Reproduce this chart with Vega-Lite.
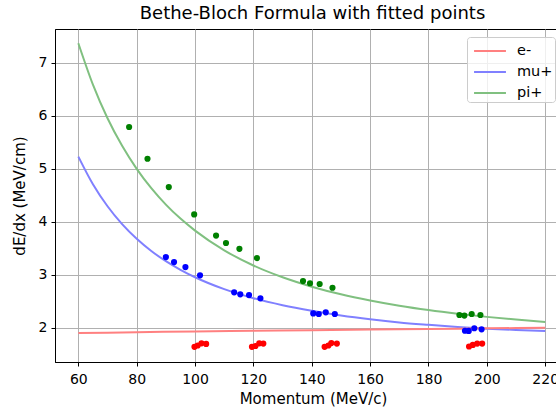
{
  "$schema": "https://vega.github.io/schema/vega-lite/v6.json",
  "width": 501,
  "height": 333,
  "autosize": {"type": "none"},
  "padding": {"left": 55, "top": 29, "right": 0, "bottom": 47},
  "background": "white",
  "title": {"text": "Bethe-Bloch Formula with fitted points", "font": "DejaVu Sans", "fontSize": 18, "fontWeight": "normal", "color": "black", "anchor": "middle", "dx": 7, "offset": 6},
  "config": {
    "font": "DejaVu Sans",
    "view": {"stroke": "black", "strokeWidth": 1},
    "axis": {"labelFont": "DejaVu Sans", "labelFontSize": 14, "labelColor": "black", "titleFont": "DejaVu Sans", "titleFontSize": 15, "titleFontWeight": "normal", "titleColor": "black", "domainColor": "black", "tickColor": "black", "tickSize": 4, "labelPadding": 4, "gridColor": "#b0b0b0", "gridWidth": 1, "gridOpacity": 1}
  },
  "datasets": {
    "curves": [
      {"p": 60, "v": 7.371, "series": "pi+"}, {"p": 65, "v": 6.589, "series": "pi+"}, {"p": 70, "v": 5.955, "series": "pi+"}, {"p": 75, "v": 5.434, "series": "pi+"}, {"p": 80, "v": 5.0, "series": "pi+"}, {"p": 85, "v": 4.635, "series": "pi+"}, {"p": 90, "v": 4.325, "series": "pi+"}, {"p": 95, "v": 4.06, "series": "pi+"}, {"p": 100, "v": 3.833, "series": "pi+"}, {"p": 110, "v": 3.461, "series": "pi+"}, {"p": 120, "v": 3.175, "series": "pi+"}, {"p": 130, "v": 2.952, "series": "pi+"}, {"p": 140, "v": 2.775, "series": "pi+"}, {"p": 150, "v": 2.631, "series": "pi+"}, {"p": 160, "v": 2.514, "series": "pi+"}, {"p": 170, "v": 2.415, "series": "pi+"}, {"p": 180, "v": 2.333, "series": "pi+"}, {"p": 190, "v": 2.264, "series": "pi+"}, {"p": 200, "v": 2.205, "series": "pi+"}, {"p": 210, "v": 2.155, "series": "pi+"}, {"p": 220, "v": 2.11, "series": "pi+"},
      {"p": 60, "v": 5.231, "series": "mu+"}, {"p": 65, "v": 4.709, "series": "mu+"}, {"p": 70, "v": 4.293, "series": "mu+"}, {"p": 75, "v": 3.956, "series": "mu+"}, {"p": 80, "v": 3.679, "series": "mu+"}, {"p": 85, "v": 3.449, "series": "mu+"}, {"p": 90, "v": 3.256, "series": "mu+"}, {"p": 95, "v": 3.093, "series": "mu+"}, {"p": 100, "v": 2.953, "series": "mu+"}, {"p": 110, "v": 2.728, "series": "mu+"}, {"p": 120, "v": 2.558, "series": "mu+"}, {"p": 130, "v": 2.425, "series": "mu+"}, {"p": 140, "v": 2.32, "series": "mu+"}, {"p": 150, "v": 2.232, "series": "mu+"}, {"p": 160, "v": 2.16, "series": "mu+"}, {"p": 170, "v": 2.1, "series": "mu+"}, {"p": 180, "v": 2.055, "series": "mu+"}, {"p": 190, "v": 2.015, "series": "mu+"}, {"p": 200, "v": 1.982, "series": "mu+"}, {"p": 210, "v": 1.958, "series": "mu+"}, {"p": 220, "v": 1.94, "series": "mu+"},
      {"p": 60, "v": 1.9, "series": "e-"}, {"p": 80, "v": 1.915, "series": "e-"}, {"p": 100, "v": 1.93, "series": "e-"}, {"p": 120, "v": 1.943, "series": "e-"}, {"p": 140, "v": 1.954, "series": "e-"}, {"p": 160, "v": 1.965, "series": "e-"}, {"p": 180, "v": 1.976, "series": "e-"}, {"p": 200, "v": 1.988, "series": "e-"}, {"p": 220, "v": 2.0, "series": "e-"}
    ],
    "pts": [
      {"p": 77.4, "v": 5.79, "series": "pi+"}, {"p": 83.7, "v": 5.19, "series": "pi+"}, {"p": 91.0, "v": 4.655, "series": "pi+"}, {"p": 99.7, "v": 4.14, "series": "pi+"}, {"p": 107.2, "v": 3.74, "series": "pi+"}, {"p": 110.6, "v": 3.6, "series": "pi+"}, {"p": 115.2, "v": 3.49, "series": "pi+"}, {"p": 121.2, "v": 3.315, "series": "pi+"}, {"p": 137.0, "v": 2.88, "series": "pi+"}, {"p": 139.4, "v": 2.84, "series": "pi+"}, {"p": 142.7, "v": 2.825, "series": "pi+"}, {"p": 147.1, "v": 2.755, "series": "pi+"}, {"p": 190.6, "v": 2.24, "series": "pi+"}, {"p": 192.3, "v": 2.23, "series": "pi+"}, {"p": 194.8, "v": 2.26, "series": "pi+"}, {"p": 197.8, "v": 2.24, "series": "pi+"},
      {"p": 90.0, "v": 3.334, "series": "mu+"}, {"p": 92.8, "v": 3.24, "series": "mu+"}, {"p": 96.7, "v": 3.145, "series": "mu+"}, {"p": 101.7, "v": 2.99, "series": "mu+"}, {"p": 113.4, "v": 2.668, "series": "mu+"}, {"p": 115.5, "v": 2.63, "series": "mu+"}, {"p": 118.5, "v": 2.617, "series": "mu+"}, {"p": 122.4, "v": 2.555, "series": "mu+"}, {"p": 140.5, "v": 2.27, "series": "mu+"}, {"p": 142.4, "v": 2.26, "series": "mu+"}, {"p": 144.8, "v": 2.29, "series": "mu+"}, {"p": 147.9, "v": 2.26, "series": "mu+"}, {"p": 192.5, "v": 1.943, "series": "mu+"}, {"p": 193.8, "v": 1.94, "series": "mu+"}, {"p": 195.7, "v": 1.99, "series": "mu+"}, {"p": 198.2, "v": 1.97, "series": "mu+"},
      {"p": 99.8, "v": 1.64, "series": "e-"}, {"p": 100.9, "v": 1.665, "series": "e-"}, {"p": 102.2, "v": 1.705, "series": "e-"}, {"p": 103.8, "v": 1.695, "series": "e-"}, {"p": 119.5, "v": 1.64, "series": "e-"}, {"p": 120.7, "v": 1.655, "series": "e-"}, {"p": 122.0, "v": 1.705, "series": "e-"}, {"p": 123.4, "v": 1.7, "series": "e-"}, {"p": 144.4, "v": 1.64, "series": "e-"}, {"p": 145.7, "v": 1.665, "series": "e-"}, {"p": 146.7, "v": 1.71, "series": "e-"}, {"p": 148.6, "v": 1.7, "series": "e-"}, {"p": 193.9, "v": 1.645, "series": "e-"}, {"p": 195.2, "v": 1.675, "series": "e-"}, {"p": 196.7, "v": 1.7, "series": "e-"}, {"p": 198.4, "v": 1.7, "series": "e-"}
    ]
  },
  "layer": [
    {
      "data": {"name": "curves"},
      "mark": {"type": "line", "strokeWidth": 2, "interpolate": "monotone", "clip": true},
      "encoding": {
        "x": {"field": "p", "type": "quantitative", "scale": {"domain": [52, 223.7], "nice": false, "zero": false}, "axis": {"values": [60, 80, 100, 120, 140, 160, 180, 200, 220], "title": "Momentum (MeV/c)", "titleX": 258, "titlePadding": 5, "labelPadding": 6}},
        "y": {"field": "v", "type": "quantitative", "scale": {"domain": [1.353, 7.64], "nice": false, "zero": false}, "axis": {"values": [2, 3, 4, 5, 6, 7], "format": "d", "title": "dE/dx (MeV/cm)", "titlePadding": 11}},
        "color": {"field": "series", "type": "nominal", "scale": {"domain": ["e-", "mu+", "pi+"], "range": ["#ff8080", "#8080ff", "#80c080"]},
          "legend": {"title": null, "orient": "none", "legendX": 412, "legendY": 8, "symbolType": "M-1.45,0H1.45", "symbolSize": 484, "symbolStrokeWidth": 2, "symbolOffset": 9, "labelFontSize": 14.5, "labelFont": "DejaVu Sans", "labelColor": "black", "labelOffset": 15, "rowPadding": 2, "padding": 2, "fillColor": "rgba(255,255,255,0.8)", "strokeColor": "#cccccc", "cornerRadius": 3}},
        "detail": {"field": "series"}
      }
    },
    {
      "data": {"name": "pts"},
      "mark": {"type": "circle", "size": 38, "opacity": 1},
      "encoding": {
        "x": {"field": "p", "type": "quantitative"},
        "y": {"field": "v", "type": "quantitative"},
        "color": {"field": "series", "type": "nominal", "scale": {"domain": ["e-", "mu+", "pi+"], "range": ["red", "blue", "green"]}, "legend": null}
      }
    }
  ],
  "resolve": {"scale": {"color": "independent"}}
}
